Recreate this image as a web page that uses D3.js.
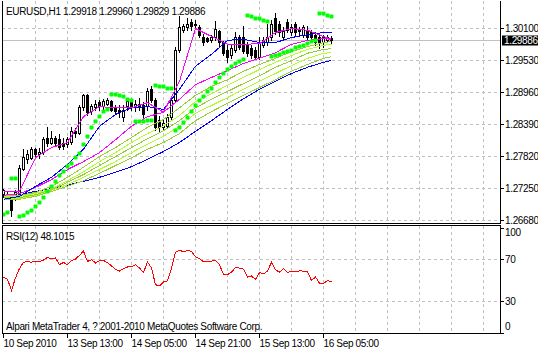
<!DOCTYPE html>
<html>
<head>
<meta charset="utf-8">
<script src="https://d3js.org/d3.v7.min.js"></script>
<style>
  html, body { margin: 0; padding: 0; background: #fff; }
  svg { display: block; }
  text { font-family: "Liberation Sans", Arial, sans-serif; font-size: 10px; letter-spacing: -0.35px; fill: #000; }
</style>
</head>
<body>
<svg id="chart" width="538" height="351"></svg>
<script>
// EURUSD H1, 10 Sep 2010 21:00 .. 16 Sep 2010 07:00 (83 bars)
const open = [1.27152,1.27081,1.27081,1.27081,1.27152,1.27597,1.27758,1.27793,1.27936,1.27847,
  1.27900,1.28132,1.28060,1.28132,1.28114,1.28060,1.28042,1.28078,1.28274,1.28238,
  1.28684,1.28898,1.28613,1.28684,1.28773,1.28702,1.28755,1.28791,1.28684,1.28648,
  1.28523,1.28702,1.28826,1.28684,1.28755,1.28720,1.28702,1.29005,1.28826,1.28470,
  1.28345,1.28363,1.28506,1.28826,1.29717,1.30073,1.30109,1.30198,1.30180,1.30109,
  1.29948,1.29913,1.29895,1.29931,1.30038,1.29842,1.29717,1.29627,1.29717,1.29931,
  1.29931,1.29806,1.29752,1.29717,1.29592,1.29806,1.29842,1.29931,1.30270,1.30163,
  1.29931,1.30198,1.30020,1.30163,1.30073,1.29984,1.30073,1.30020,1.29984,1.29948,
  1.29859,1.29895,1.29918];
const high = [1.27241,1.27170,1.27117,1.27206,1.27651,1.27953,1.27918,1.27989,1.27971,1.27971,
  1.28167,1.28328,1.28274,1.28185,1.28203,1.28132,1.28167,1.28345,1.28310,1.28720,
  1.28933,1.28933,1.28755,1.28826,1.28809,1.28844,1.28862,1.28826,1.28737,1.28720,
  1.28720,1.28826,1.28809,1.28809,1.28862,1.28773,1.29040,1.29058,1.28862,1.28541,
  1.28470,1.28577,1.28880,1.29770,1.30305,1.30180,1.30270,1.30252,1.30234,1.30145,
  1.30002,1.29948,1.29984,1.30216,1.30073,1.29877,1.29806,1.29806,1.30020,1.29984,
  1.30127,1.29859,1.29806,1.29770,1.29931,1.29948,1.30180,1.30234,1.30376,1.30216,
  1.30109,1.30252,1.30163,1.30198,1.30109,1.30145,1.30127,1.30056,1.30020,1.29984,
  1.29984,1.29984,1.29960];
const low = [1.27099,1.27063,1.26743,1.27028,1.27117,1.27562,1.27704,1.27758,1.27811,1.27793,
  1.27864,1.28007,1.28025,1.28007,1.27936,1.27953,1.27989,1.28042,1.28167,1.28203,
  1.28648,1.28559,1.28577,1.28648,1.28648,1.28666,1.28720,1.28613,1.28577,1.28506,
  1.28452,1.28648,1.28648,1.28613,1.28648,1.28523,1.28648,1.28773,1.28292,1.28274,
  1.28292,1.28328,1.28470,1.28791,1.29681,1.30020,1.30073,1.30073,1.30091,1.29948,
  1.29806,1.29842,1.29859,1.29895,1.29788,1.29627,1.29503,1.29574,1.29681,1.29734,
  1.29663,1.29610,1.29574,1.29556,1.29556,1.29770,1.29806,1.29895,1.30002,1.29966,
  1.29895,1.30020,1.29984,1.29984,1.29984,1.29948,1.29895,1.29859,1.29806,1.29752,
  1.29770,1.29859,1.29829];
const close = [1.27206,1.27134,1.26867,1.27170,1.27615,1.27811,1.27847,1.27936,1.27847,1.27900,
  1.28114,1.28060,1.28132,1.28060,1.27989,1.28007,1.28114,1.28274,1.28221,1.28684,
  1.28898,1.28595,1.28702,1.28755,1.28702,1.28791,1.28809,1.28648,1.28613,1.28595,
  1.28648,1.28791,1.28702,1.28755,1.28702,1.28577,1.28969,1.28826,1.28345,1.28345,
  1.28399,1.28506,1.28826,1.29717,1.30109,1.30127,1.30180,1.30127,1.30145,1.29984,
  1.29842,1.29877,1.29948,1.30091,1.29859,1.29663,1.29592,1.29752,1.29931,1.29770,
  1.29699,1.29663,1.29627,1.29592,1.29842,1.29895,1.29948,1.30180,1.30038,1.30020,
  1.30038,1.30073,1.30109,1.30020,1.30038,1.30109,1.29948,1.29931,1.29859,1.29842,
  1.29931,1.29948,1.29886];

// parabolic SAR, one dot per bar
const sar = [1.26778,1.26814,1.27437,1.27437,1.26743,1.26761,1.26814,1.26850,1.26921,1.26992,
  1.27081,1.27188,1.27277,1.27366,1.27473,1.27544,1.27633,1.27704,1.27794,1.27882,
  1.28025,1.28185,1.28328,1.28435,1.28541,1.28613,1.28666,1.28933,1.28916,1.28898,
  1.28880,1.28844,1.28826,1.28452,1.28452,1.28452,1.28470,1.28470,1.29076,1.29058,
  1.29058,1.29040,1.29023,1.28292,1.28328,1.28417,1.28506,1.28613,1.28720,1.28809,
  1.28880,1.28969,1.29040,1.29130,1.29219,1.29290,1.29361,1.29415,1.29468,1.29504,
  1.29539,1.30323,1.30305,1.30287,1.30270,1.30234,1.30216,1.29593,1.29611,1.29628,
  1.29664,1.29682,1.29717,1.29753,1.29771,1.29806,1.29824,1.29860,1.29878,1.30376,
  1.30359,1.30323,1.30305];

// moving averages, read every 4th bar
const lineBars = [0,4,8,12,16,20,24,28,32,36,40,44,48,52,56,60,64,68,72,76,80,82];
const maMagentaFast = [1.2719,1.2719,1.2779,1.2797,1.2806,1.2852,1.2870,1.2868,1.2868,1.2877,1.2860,1.2915,1.3009,1.2995,1.2981,1.2981,1.2982,1.3002,1.3009,1.3006,1.2995,1.2990];
const maMagentaSlow = [1.2712,1.2715,1.2726,1.2740,1.2758,1.2772,1.2788,1.2811,1.2835,1.2852,1.2860,1.2883,1.2909,1.2922,1.2934,1.2947,1.2956,1.2966,1.2981,1.2988,1.2991,1.2990];
const maBlueFast = [1.2705,1.2710,1.2728,1.2744,1.2767,1.2794,1.2835,1.2856,1.2868,1.2870,1.2865,1.2901,1.2942,1.2963,1.2988,1.2990,1.2984,1.2984,1.2993,1.2998,1.3002,1.3002];
const maBlueSlow = [1.2708,1.2713,1.2719,1.2724,1.2730,1.2737,1.2744,1.2753,1.2763,1.2776,1.2790,1.2806,1.2826,1.2845,1.2865,1.2884,1.2901,1.2915,1.2929,1.2940,1.2949,1.2952];
const maGreen1 = [1.2712,1.2712,1.2717,1.2728,1.2744,1.2762,1.2781,1.2797,1.2815,1.2833,1.2847,1.2868,1.2890,1.2906,1.2918,1.2933,1.2945,1.2956,1.2968,1.2977,1.2984,1.2986];
const maGreen2 = [1.2710,1.2710,1.2715,1.2724,1.2738,1.2754,1.2772,1.2788,1.2806,1.2822,1.2836,1.2854,1.2879,1.2893,1.2908,1.2922,1.2936,1.2949,1.2961,1.2972,1.2979,1.2981];
const maGreen3 = [1.2708,1.2708,1.2713,1.2722,1.2735,1.2749,1.2765,1.2781,1.2797,1.2813,1.2827,1.2845,1.2868,1.2883,1.2897,1.2911,1.2925,1.2940,1.2952,1.2965,1.2972,1.2973];
const maGreen4 = [1.2706,1.2706,1.2712,1.2721,1.2731,1.2744,1.2758,1.2772,1.2788,1.2803,1.2817,1.2835,1.2858,1.2872,1.2886,1.2901,1.2915,1.2929,1.2943,1.2956,1.2965,1.2966];
const maGreen5 = [1.2705,1.2705,1.2710,1.2719,1.2728,1.2738,1.2751,1.2765,1.2779,1.2794,1.2806,1.2822,1.2845,1.2861,1.2876,1.2890,1.2904,1.2918,1.2933,1.2945,1.2956,1.2959];

// RSI(12), one value per bar
const rsi = [52.8,50.8,40.0,52.0,61.0,66.8,67.5,67.0,68.0,67.3,
  69.0,71.5,70.2,71.0,64.6,66.8,64.5,68.5,70.0,73.5,
  77.5,67.7,69.4,66.2,68.5,68.7,66.5,63.5,60.0,58.5,
  60.8,62.4,62.6,64.6,61.4,57.2,67.1,61.4,45.5,44.4,
  48.2,49.2,61.4,76.5,78.2,77.0,78.0,77.3,72.0,70.3,
  67.3,67.4,68.0,68.7,64.5,55.3,55.0,57.5,62.0,61.4,
  60.4,52.8,53.8,50.5,57.0,55.9,58.5,66.8,59.8,57.5,
  60.7,57.4,58.1,58.1,58.7,58.5,58.0,49.5,52.8,47.0,
  46.5,49.5,48.1];

const priceTicks = [1.26680,1.27250,1.27820,1.28390,1.28960,1.29530,1.30100];
const rsiTicks = [0,30,70,100];
const timeTickBars = [0,16,32,48,64,80];
const timeTickLabels = ['10 Sep 2010','13 Sep 13:00','14 Sep 05:00','14 Sep 21:00','15 Sep 13:00','16 Sep 05:00'];

const mainBox = { left: 2, right: 500, top: 1, bottom: 223 };
const subBox = { left: 2, right: 500, top: 225, bottom: 333 };

const svg = d3.select('#chart');

const x = d3.scaleLinear().domain([0, 82]).range([3, 331]);
const y = d3.scaleLinear().domain([1.26680, 1.30100]).range([220, 28]);
const yr = d3.scaleLinear().domain([0, 100]).range([332.5, 227.5]);
const px = v => Math.round(v);

svg.append('defs').append('clipPath').attr('id', 'clipMain')
  .append('rect').attr('x', 3).attr('y', mainBox.top).attr('width', mainBox.right - 3).attr('height', mainBox.bottom - mainBox.top);
svg.select('defs').append('clipPath').attr('id', 'clipSub')
  .append('rect').attr('x', 3).attr('y', subBox.top + 1).attr('width', subBox.right - 3).attr('height', subBox.bottom - subBox.top - 1);

// grids
const grid = svg.append('g').attr('shape-rendering', 'crispEdges')
  .attr('stroke', '#c0c0c0').attr('stroke-dasharray', '3,3');
const vBars = d3.range(8, 121, 8);
grid.selectAll('.vm').data(vBars).join('line').attr('class', 'vm')
  .attr('x1', d => px(x(d)) + 0.5).attr('x2', d => px(x(d)) + 0.5)
  .attr('y1', mainBox.top).attr('y2', mainBox.bottom);
grid.selectAll('.vs').data(vBars).join('line').attr('class', 'vs')
  .attr('x1', d => px(x(d)) + 0.5).attr('x2', d => px(x(d)) + 0.5)
  .attr('y1', subBox.top + 1).attr('y2', subBox.bottom);
grid.selectAll('.hm').data(priceTicks).join('line').attr('class', 'hm')
  .attr('x1', mainBox.left).attr('x2', mainBox.right)
  .attr('y1', d => px(y(d)) + 0.5).attr('y2', d => px(y(d)) + 0.5);
grid.selectAll('.hs').data([30, 70]).join('line').attr('class', 'hs')
  .attr('x1', subBox.left).attr('x2', subBox.right)
  .attr('y1', d => Math.floor(yr(d)) + 0.5).attr('y2', d => Math.floor(yr(d)) + 0.5);

// current price line
const lastClose = close[close.length - 1];
svg.append('line').attr('shape-rendering', 'crispEdges')
  .attr('x1', mainBox.left).attr('x2', mainBox.right)
  .attr('y1', px(y(lastClose)) + 0.5).attr('y2', px(y(lastClose)) + 0.5)
  .attr('stroke', '#c0c0c0');

const gMain = svg.append('g').attr('clip-path', 'url(#clipMain)');

// candles
const cg = gMain.append('g').attr('shape-rendering', 'crispEdges');
const idx = d3.range(open.length);
cg.selectAll('.wick').data(idx).join('line').attr('class', 'wick')
  .attr('x1', i => px(x(i)) + 0.5).attr('x2', i => px(x(i)) + 0.5)
  .attr('y1', i => px(y(high[i]))).attr('y2', i => px(y(low[i])) + 1)
  .attr('stroke', '#000');
cg.selectAll('.body').data(idx).join('rect').attr('class', 'body')
  .attr('x', i => px(x(i)) - 0.5)
  .attr('y', i => px(y(Math.max(open[i], close[i]))) + 0.5)
  .attr('width', 2)
  .attr('height', i => px(y(Math.min(open[i], close[i]))) - px(y(Math.max(open[i], close[i]))))
  .attr('fill', i => close[i] > open[i] ? '#fff' : '#000')
  .attr('stroke', '#000');

// moving averages
const maLine = d3.line().x((d, k) => x(lineBars[k]) + 0.5).y(d => y(d));
const maSeries = [
  { v: maBlueSlow, c: '#0000ff' },
  { v: maGreen5, c: '#9acd32' },
  { v: maGreen4, c: '#adff2f' },
  { v: maGreen3, c: '#9acd32' },
  { v: maGreen2, c: '#adff2f' },
  { v: maGreen1, c: '#9acd32' },
  { v: maMagentaSlow, c: '#ff00ff' },
  { v: maBlueFast, c: '#0000ff' },
  { v: maMagentaFast, c: '#ff00ff' }
];
gMain.selectAll('.ma').data(maSeries).join('path').attr('class', 'ma')
  .attr('d', d => maLine(d.v))
  .attr('fill', 'none').attr('stroke', d => d.c).attr('stroke-width', 1)
  .attr('shape-rendering', 'crispEdges');

// parabolic SAR
gMain.selectAll('.sar').data(idx).join('rect').attr('class', 'sar')
  .attr('x', i => px(x(i)) - 1.5).attr('y', i => px(y(sar[i])) - 1.5)
  .attr('width', 4).attr('height', 4).attr('rx', 1)
  .attr('fill', '#00ff00');

// RSI line
const gSub = svg.append('g').attr('clip-path', 'url(#clipSub)');
gSub.append('path')
  .attr('d', d3.line().x((d, i) => x(i) + 0.5).y(d => yr(d))(rsi))
  .attr('fill', 'none').attr('stroke', '#ff0000').attr('stroke-width', 1)
  .attr('shape-rendering', 'crispEdges');

// frames
const frame = svg.append('g').attr('shape-rendering', 'crispEdges').attr('stroke', '#000').attr('fill', 'none');
frame.append('path').attr('d', `M${mainBox.left + 0.5},${mainBox.top}V${mainBox.bottom + 0.5}H${mainBox.right + 0.5}V${mainBox.top}`);
frame.append('rect').attr('x', subBox.left + 0.5).attr('y', subBox.top + 0.5)
  .attr('width', subBox.right - subBox.left).attr('height', subBox.bottom - subBox.top);

// axes
const yAxis = svg.append('g').attr('transform', `translate(${mainBox.right},0)`)
  .call(d3.axisRight(y).tickValues(priceTicks).tickFormat(d3.format('.5f')).tickSize(4).tickSizeOuter(0).tickPadding(1));
yAxis.select('.domain').remove();
yAxis.selectAll('text').attr('font-size', null).attr('font-family', null);

const rAxis = svg.append('g').attr('transform', `translate(${subBox.right},0)`)
  .call(d3.axisRight(yr).tickValues(rsiTicks).tickSize(4).tickSizeOuter(0).tickPadding(1));
rAxis.select('.domain').remove();
rAxis.selectAll('text').attr('font-size', null).attr('font-family', null)
  .attr('y', d => d === 100 ? 5 : d === 0 ? -6 : 0);

const xAxis = svg.append('g').attr('transform', `translate(0,${subBox.bottom})`)
  .call(d3.axisBottom(x).tickValues(timeTickBars).tickFormat((d, i) => timeTickLabels[i]).tickSize(5).tickSizeOuter(0));
xAxis.select('.domain').remove();
xAxis.selectAll('text').attr('font-size', null).attr('font-family', null)
  .attr('text-anchor', 'start').attr('x', 0).attr('y', 7).attr('dy', '0.71em');
svg.selectAll('.tick line').attr('shape-rendering', 'crispEdges');

// current price marker
const cy = px(y(lastClose)) + 0.5;
svg.append('rect').attr('x', 502).attr('y', cy - 5).attr('width', 36).attr('height', 10).attr('fill', '#000');
svg.append('text').attr('x', 504).attr('y', cy + 3.5).style('fill', '#fff').text(d3.format('.5f')(lastClose));

// captions
svg.append('text').attr('x', 6).attr('y', 15)
  .text(`EURUSD,H1 ${open[82].toFixed(5)} ${high[82].toFixed(5)} ${low[82].toFixed(5)} ${close[82].toFixed(5)}`);
svg.append('text').attr('x', 6).attr('y', 240).text('RSI(12) 48.1015');
svg.append('text').attr('x', 6).attr('y', 330).text('Alpari MetaTrader 4, ? 2001-2010 MetaQuotes Software Corp.');
</script>
</body>
</html>
